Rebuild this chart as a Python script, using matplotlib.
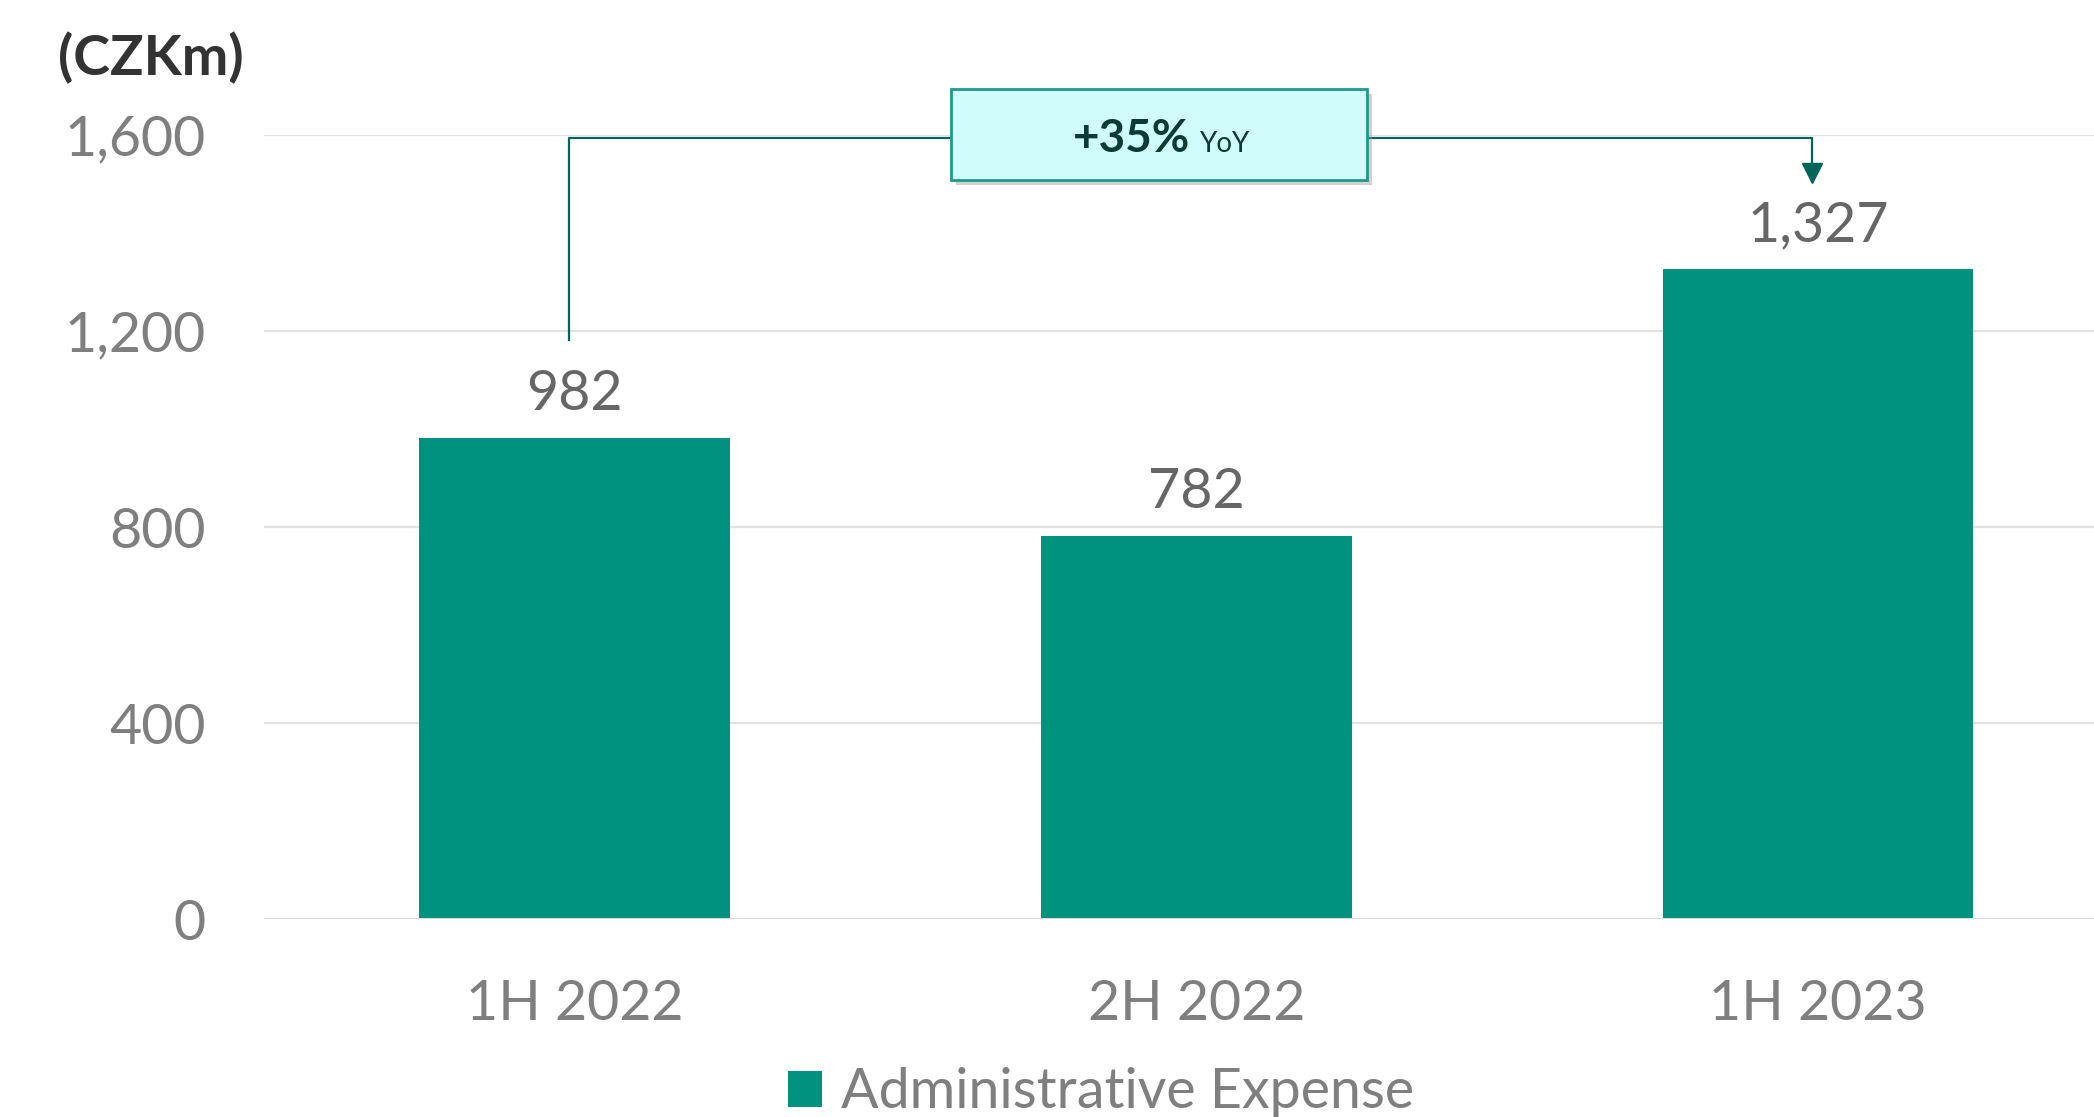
import matplotlib
matplotlib.use("Agg")
import matplotlib.pyplot as plt
from matplotlib.patches import Rectangle, Patch

plt.rcParams['font.family'] = ['Lato', 'DejaVu Sans']

categories = ["1H 2022", "2H 2022", "1H 2023"]
values = [982, 782, 1327]
value_labels = ["982", "782", "1,327"]
yticks = [0, 400, 800, 1200, 1600]
ytick_labels = ["0", "400", "800", "1,200", "1,600"]
series_name = "Administrative Expense"
unit_label = "(CZKm)"
yoy_text = "+35%"

BAR = "#00917F"
TEAL_DARK = "#00665A"
GRAY = "#7F7F7F"

W, H = 2094, 1117
fig = plt.figure(figsize=(W / 100, H / 100), dpi=100)
ax = fig.add_axes([264 / W, (H - 919) / H, (W - 264) / W, 784 / H])

x = list(range(len(categories)))
ax.bar(x, values, width=0.5, color=BAR, zorder=3)
ax.set_xlim(-0.5, 2.444)
ax.set_ylim(0, 1600)

ax.set_yticks(yticks)
ax.set_yticklabels(ytick_labels)
ax.set_xticks(x)
ax.set_xticklabels(categories)
ax.tick_params(axis='y', length=0, pad=42, labelsize=40, labelcolor=GRAY)
ax.tick_params(axis='x', length=0, pad=43, labelsize=40, labelcolor=GRAY)
ax.grid(axis='y', color='#E2E2E2', linewidth=1.6, zorder=0)
ax.set_axisbelow(True)
for s in ax.spines.values():
    s.set_visible(False)
ax.axhline(0, color='#D9D9D9', linewidth=2.2, zorder=4)

for xi, v, lab in zip(x, values, value_labels):
    ax.annotate(lab, (xi, v), xytext=(0, 31), textcoords='offset points',
                ha='center', va='center', fontsize=40, color='#666666')

fig.text(58 / W, 1 - 58 / H, unit_label, fontsize=40, fontweight='bold',
         color='#333333', ha='left', va='center')

# YoY connector
dx = -0.009
yl = 1594
ax.plot([x[0] + dx, x[0] + dx, x[2] + dx, x[2] + dx], [1182, yl, yl, 1535],
        color=TEAL_DARK, linewidth=1.6, clip_on=False, zorder=5)
ax.plot([x[2] + dx], [1523], marker='v', markersize=15, color=TEAL_DARK,
        clip_on=False, zorder=5)

bx0, bx1, by0, by1 = 0.605, 1.275, 1508, 1694
shadow = Rectangle((bx0 + 0.008, by0 - 10), bx1 - bx0, by1 - by0,
                   facecolor='#9A9A9A', alpha=0.45, edgecolor='none',
                   clip_on=False, zorder=6)
ax.add_patch(shadow)
box = Rectangle((bx0, by0), bx1 - bx0, by1 - by0, facecolor='#D0FCFB',
                edgecolor='#1E9A8A', linewidth=2, clip_on=False, zorder=7)
ax.add_patch(box)
ax.text(0.99, 1565, yoy_text, fontsize=33, fontweight='bold', color='#0B3B35',
        ha='right', va='baseline', zorder=8)
ax.text(1.004, 1565, "YoY", fontsize=20, color='#0B3B35',
        ha='left', va='baseline', zorder=8)

handle = Patch(facecolor=BAR, edgecolor='none')
fig.legend([handle], [series_name], loc='center', bbox_to_anchor=(1101 / W, 24 / H),
           frameon=False, fontsize=40, labelcolor=GRAY, handlelength=0.62,
           handleheight=0.62, handletextpad=0.34, borderpad=0, borderaxespad=0)

fig.savefig("out.png", dpi=100)
